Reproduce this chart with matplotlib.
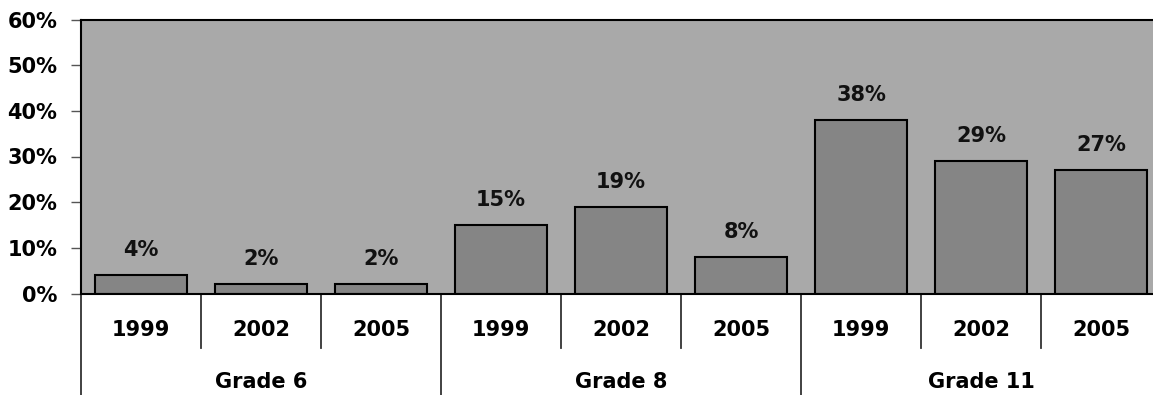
import matplotlib
matplotlib.use("Agg")
import matplotlib.pyplot as plt
from matplotlib.transforms import blended_transform_factory

# data
grades = ["Grade 6", "Grade 8", "Grade 11"]
years = ["1999", "2002", "2005"]
values = [4, 2, 2, 15, 19, 8, 38, 29, 27]
y_ticks = [0, 10, 20, 30, 40, 50, 60]

W, H = 1153, 395
BG = "#a9a9a9"
BAR = "#858585"

plt.rcParams["font.family"] = ["DejaVu Sans"]
plt.rcParams["font.weight"] = "bold"

fig = plt.figure(figsize=(W / 100, H / 100), dpi=100)
# the plot area runs past the right edge of the picture, as in the scan
ax = fig.add_axes([81 / W, 1 - 293.5 / H, 1080 / W, 274 / H])
ax.set_facecolor(BG)

n = len(values)
xs = list(range(n))
bars = ax.bar(xs, values, width=0.76, color=BAR, edgecolor="black", linewidth=1.5, zorder=2)

for x, v in zip(xs, values):
    ax.annotate(f"{v}%", (x, v), xytext=(0, 18), textcoords="offset points",
                ha="center", va="center", fontsize=15, fontweight="bold", color="#111111")

ax.set_xlim(-0.5, n - 0.5)
ax.set_ylim(0, 60)
ax.set_yticks(y_ticks)
ax.set_yticklabels([f"{t}%" for t in y_ticks], fontsize=15, fontweight="bold")
ax.tick_params(axis="y", length=7, width=1, color="#555555", pad=10)
ax.set_xticks([])

for side in ["top", "left", "bottom"]:
    ax.spines[side].set_color("black")
    ax.spines[side].set_linewidth(1.5)
ax.spines["right"].set_visible(False)

# category table below the axis
tr = blended_transform_factory(ax.transData, fig.transFigure)
y_axis = 1 - 293.5 / H
y_year = 1 - 330 / H
y_grade = 1 - 382 / H
y_sep = 1 - 348 / H

for i in range(n):
    ax.text(i, y_year, years[i % 3], transform=tr, ha="center", va="center",
            fontsize=15, fontweight="bold", clip_on=False)
for g, name in enumerate(grades):
    ax.text(g * 3 + 1, y_grade, name, transform=tr, ha="center", va="center",
            fontsize=15, fontweight="bold", clip_on=False)

for i in range(n + 1):
    xb = i - 0.5
    bottom = 0 if i % 3 == 0 else y_sep
    ax.plot([xb, xb], [y_axis, bottom], transform=tr, color="#333333",
            linewidth=1.3, clip_on=False)

fig.savefig("out.png", dpi=100, facecolor="white")
